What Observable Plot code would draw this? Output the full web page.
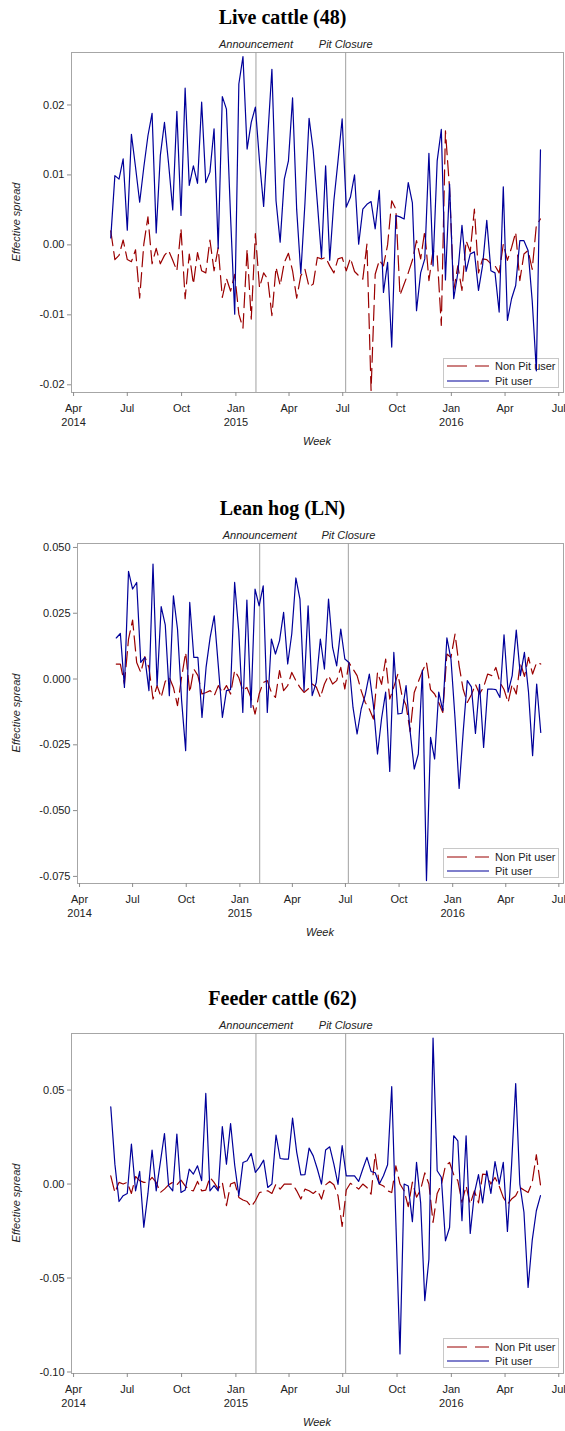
<!DOCTYPE html>
<html>
<head>
<meta charset="utf-8">
<script src="https://cdn.jsdelivr.net/npm/d3@7"></script>
<script src="https://cdn.jsdelivr.net/npm/@observablehq/plot@0.6"></script>
<style>
  body { margin: 0; background: #fff; }
  #root { position: relative; width: 565px; height: 1431px; overflow: hidden;
          font-family: "Liberation Sans", Arial, sans-serif; color: #222; }
  .title { position: absolute; left: 0; width: 565px; text-align: center; line-height: 1;
           font-family: "Liberation Serif", "Times New Roman", serif; font-weight: bold; font-size: 20px; color: #000; }
  .panel { position: absolute; left: 0; width: 565px; }
  .panel svg { position: absolute; left: 0; top: 0; z-index: 1; }
  .ylab, .xlab { position: absolute; font-style: italic; font-size: 11px; white-space: nowrap; line-height: 1; }
  .ylab { transform: translate(-50%, -50%) rotate(-90deg); }
  .xlab { transform: translate(-50%, -50%); }
  .legend { position: absolute; z-index: 0; border: 1px solid #c8c8c8; font-size: 11px; box-sizing: border-box; }
  .legend .row { position: absolute; left: 0; height: 14px; display: flex; align-items: center; }
  .legend svg { position: static; }
  .legend span { margin-left: 6px; white-space: nowrap; }
</style>
</head>
<body>
<div id="root"></div>
<script>
// Weekly effective spreads, first week 2014-06-03, 105 weeks.
const firstWeek = "2014-06-03";

// Live cattle (48)
const lcNon = [0.002,-0.0021,-0.0015,0.0007,-0.0021,-0.0024,-0.0007,-0.0076,0.0001,0.004,
  -0.0027,-0.0005,-0.0027,-0.0015,-0.0008,-0.0022,-0.0037,0.0023,-0.0077,-0.0013,
  -0.0056,-0.0011,-0.0037,-0.004,0.0007,-0.0037,-0.0004,-0.0075,-0.0048,-0.0066,
  -0.0042,-0.0099,-0.0119,-0.0006,-0.0106,0.0016,-0.0061,-0.004,-0.0049,-0.0101,
  -0.0032,-0.0058,-0.0025,-0.0012,-0.0037,-0.0076,-0.0044,-0.0035,-0.006,-0.0056,
  -0.0018,-0.002,-0.0018,-0.003,-0.004,-0.002,-0.0018,-0.0037,-0.0019,-0.0038,
  -0.0044,-0.0049,0.0001,-0.0208,-0.0042,-0.0022,-0.003,0.0,0.0063,0.0051,
  -0.0072,-0.0056,-0.004,-0.0022,0.0006,-0.002,0.002,-0.0051,-0.0008,-0.0015,
  -0.0115,0.0163,0.008,-0.0065,-0.003,-0.0065,0.0006,-0.001,0.0051,-0.004,
  -0.002,-0.0021,-0.0027,-0.003,-0.004,0.0001,-0.0022,-0.0004,0.0018,-0.0051,
  -0.0013,-0.0008,-0.0035,0.0028,0.0037];
const lcPit = [0.001,0.0099,0.0094,0.0123,0.0021,0.0158,0.0111,0.0061,0.0111,0.0156,
  0.0188,0.0017,0.0128,0.0175,0.0116,0.005,0.0191,0.0042,0.0224,0.0085,
  0.0113,0.0088,0.0204,0.0089,0.0104,0.0166,-0.0005,0.0212,0.0194,0.004,
  -0.0099,0.023,0.0269,0.0137,0.0175,0.0197,0.012,0.0055,0.0155,0.0251,
  0.0063,0.0004,0.0094,0.012,0.021,0.005,-0.0041,0.006,0.0181,0.0135,
  0.006,-0.0018,0.0113,-0.0022,0.0063,0.012,0.018,0.0054,0.0068,0.01,
  0.0001,0.0051,0.0058,0.0062,0.0023,0.0078,-0.0068,-0.0025,-0.0146,0.0042,
  0.004,0.0037,0.0089,0.006,-0.0094,-0.004,-0.002,0.0131,-0.003,0.012,
  0.0165,-0.005,0.0087,-0.0077,-0.004,0.0028,-0.0038,-0.0013,-0.001,-0.0065,
  -0.0029,0.0035,-0.0037,-0.004,-0.0096,0.0083,-0.0108,-0.0077,-0.0058,0.0006,
  0.0006,-0.0008,-0.008,-0.018,0.0136];

// Lean hog (LN)
const lhNon = [0.0057,0.0057,-0.0019,0.0152,0.0224,0.0063,0.0025,0.0085,0.0044,-0.0076,
  -0.0025,-0.007,-0.0009,0.0006,-0.0032,-0.0101,0.0006,0.0101,-0.0051,0.0038,
  0.0013,-0.0057,-0.0051,-0.0044,-0.0063,-0.0025,-0.0051,-0.0025,-0.0057,0.0032,
  0.0006,-0.0044,-0.0032,-0.007,-0.0133,-0.0057,-0.0013,-0.0006,-0.0051,-0.007,
  0.0032,-0.0044,-0.0025,0.0025,-0.0006,-0.0032,-0.0051,-0.0038,-0.0019,-0.003,
  -0.007,-0.0019,0.0013,-0.0019,-0.0006,0.0044,-0.0038,0.0063,0.0038,0.0013,
  -0.0044,-0.0089,-0.0114,-0.0152,0.0025,-0.002,0.0076,-0.0076,-0.003,0.0019,
  -0.0063,-0.01,-0.02,-0.0051,-0.001,0.003,0.0063,-0.004,-0.0057,-0.0089,
  -0.0127,0.0095,0.0082,0.0171,0.005,-0.004,-0.0089,-0.006,-0.002,-0.0057,
  -0.003,0.0019,0.0013,0.0044,-0.0013,-0.004,-0.0089,-0.002,-0.0057,0.0063,
  0.001,0.0082,0.0019,0.0063,0.0057];
const lhPit = [0.0156,0.0173,-0.0032,0.0409,0.0342,0.0367,0.0063,0.0082,-0.0044,0.0437,
  -0.0025,0.0275,0.0206,-0.0063,0.0316,0.019,-0.008,-0.0272,0.0291,0.0082,
  0.0082,-0.0146,0.0044,0.0158,0.024,0.005,-0.0146,-0.0044,-0.004,0.0367,
  0.0183,-0.0127,0.03,-0.0108,0.0342,0.0278,0.0354,-0.0127,0.0152,0.0095,
  0.0146,0.0253,0.0057,0.0172,0.0384,0.0304,-0.0044,0.0278,-0.0063,-0.0013,
  0.0152,0.0038,0.0304,0.012,0.005,0.019,0.0076,0.0063,-0.0108,-0.0209,
  -0.0114,-0.006,0.0019,-0.01,-0.0285,-0.015,-0.005,-0.0351,0.0101,-0.0133,
  -0.013,-0.0025,-0.02,-0.0342,-0.0285,0.0034,-0.0766,-0.0222,-0.0304,-0.005,
  -0.012,0.0156,0.0076,-0.015,-0.0416,-0.02,-0.0006,-0.003,-0.0207,-0.002,
  -0.026,-0.0038,-0.0038,-0.004,-0.007,0.0168,-0.005,0.0013,0.0186,0.0013,
  0.0101,-0.005,-0.0291,-0.0019,-0.0203];

// Feeder cattle (62)
const fcNon = [0.0044,-0.0045,0.0009,0.0,0.0009,-0.005,0.004,0.0018,0.0009,0.001,
  0.0035,0.0009,-0.0045,-0.0027,-0.0004,0.0009,-0.0004,0.0021,-0.001,-0.0032,
  -0.0036,0.0014,-0.0036,-0.0032,0.0035,0.0009,-0.0027,0.0009,-0.0115,0.0,
  0.0009,-0.0071,-0.0085,-0.0093,-0.0121,-0.0089,-0.0045,-0.004,-0.0036,-0.005,
  0.0,-0.0027,0.0,0.0,0.0,-0.0036,-0.008,-0.0027,-0.0036,-0.005,
  -0.0032,-0.008,-0.0004,0.0014,-0.0004,-0.0062,-0.0225,-0.0032,0.0004,-0.001,
  -0.0027,0.0,-0.0018,-0.0054,0.016,0.0,-0.001,-0.0036,-0.0045,0.0097,
  0.0,-0.0036,-0.012,0.001,-0.007,-0.003,0.006,0.0,-0.0204,-0.005,
  -0.0004,0.0097,0.0115,0.005,0.0018,-0.0098,-0.001,-0.0107,-0.0036,-0.01,
  0.0053,0.005,0.0,0.0035,-0.001,-0.0071,-0.0107,-0.008,-0.0062,-0.0018,
  -0.0032,-0.0045,0.0009,0.0156,-0.0004];
const fcPit = [0.0411,0.0106,-0.0093,-0.0062,-0.005,0.0213,-0.0036,0.0067,-0.023,-0.005,
  0.0181,-0.0036,0.0115,0.0269,-0.0009,-0.0036,0.0266,-0.0045,-0.0032,0.008,
  0.0053,0.0097,0.0018,0.0482,-0.0036,-0.0009,-0.0036,0.0306,0.0106,0.0322,
  0.01,-0.0062,0.0115,0.0124,0.0163,0.0062,0.009,0.0127,-0.0018,0.0,
  0.0261,0.0136,0.0133,0.0133,0.0351,0.017,0.0049,0.005,0.0191,0.015,
  0.008,0.0,0.0181,0.0198,0.0106,-0.0002,0.0204,0.0044,0.0044,0.0044,
  0.0014,0.008,0.0142,0.0067,0.006,0.0,0.0044,0.0103,0.0518,-0.02,
  -0.0904,0.0,-0.001,-0.02,0.0115,-0.01,-0.062,-0.04,0.0777,0.0071,
  0.0036,-0.0302,-0.0231,0.0257,0.023,-0.0195,0.0257,-0.0263,-0.005,0.005,
  -0.01,0.007,-0.005,0.012,0.0,0.0115,-0.0252,0.01,0.0535,0.0,
  -0.015,-0.055,-0.03,-0.0142,-0.0062];

// Event markers
const eventDates = ["2015-02-04", "2015-07-06"];
const eventLabels = ["Announcement", "Pit Closure"];

// Axis ticks
const xTickDates = ["2014-04-01","2014-07-01","2014-10-01","2015-01-01","2015-04-01",
                    "2015-07-01","2015-10-01","2016-01-01","2016-04-01","2016-07-01"];
const xTickLabels = ["Apr\n2014","Jul","Oct","Jan\n2015","Apr","Jul","Oct","Jan\n2016","Apr","Jul"];

const titles = ["Live cattle (48)", "Lean hog (LN)", "Feeder cattle (62)"];
const yTicks = [
  [-0.02, -0.01, 0, 0.01, 0.02],
  [-0.075, -0.05, -0.025, 0, 0.025, 0.05],
  [-0.1, -0.05, 0, 0.05]
];
const yDigits = [2, 3, 2];
const yDomains = [[-0.0211, 0.0275], [-0.0777, 0.0515], [-0.1008, 0.0801]];
const seriesNames = ["Non Pit user", "Pit user"];
const seriesData = [[lcNon, lcPit], [lhNon, lhPit], [fcNon, fcPit]];

// Styling
const RED = "#9a0000", BLUE = "#00009a", DASH = "15,6";
const AXIS_GRAY = "#8c8c8c", FRAME_GRAY = "#a6a6a6", EVENT_GRAY = "#a0a0a0";
const frameTops = [52, 542.7, 1032.7];
const marginLefts = [71, 77, 71];
const MT = 22, FH = 340, MB = 60, MR = 2;

const xDomain = [new Date("2014-03-28T12:00Z"), new Date("2016-07-09T00:00Z")];
const start = new Date(firstWeek + "T00:00Z");
const tickDates = xTickDates.map(s => new Date(s + "T00:00Z"));
const tickLabelByTime = new Map(tickDates.map((d, i) => [d.getTime(), xTickLabels[i]]));
const events = eventDates.map((s, i) => ({date: new Date(s + "T00:00Z"), label: eventLabels[i]}));

const root = document.getElementById("root");

titles.forEach((title, p) => {
  const [non, pit] = seriesData[p];
  const rowsNon = non.map((v, i) => ({date: d3.utcDay.offset(start, 7 * i), v}));
  const rowsPit = pit.map((v, i) => ({date: d3.utcDay.offset(start, 7 * i), v}));
  const top = frameTops[p] - MT;
  const ml = marginLefts[p];

  const t = document.createElement("div");
  t.className = "title";
  t.style.top = (frameTops[p] - 45) + "px";
  t.textContent = title;
  root.appendChild(t);

  const panel = document.createElement("div");
  panel.className = "panel";
  panel.style.top = top + "px";
  panel.style.height = (MT + FH + MB) + "px";

  const chart = Plot.plot({
    width: 565,
    height: MT + FH + MB,
    marginTop: MT, marginBottom: MB, marginLeft: ml, marginRight: MR,
    style: {background: "transparent", fontFamily: "'Liberation Sans', Arial, sans-serif", fontSize: "11px", color: "#222", overflow: "visible"},
    x: {type: "utc", domain: xDomain},
    y: {domain: yDomains[p]},
    marks: [
      Plot.frame({stroke: FRAME_GRAY}),
      Plot.ruleX(events, {x: "date", stroke: EVENT_GRAY, strokeWidth: 1}),
      Plot.text(events, {x: "date", text: "label", frameAnchor: "top", lineAnchor: "middle", dy: -8.5,
                         fontStyle: "italic", fontSize: 11, fill: "#222"}),
      Plot.line(rowsNon, {x: "date", y: "v", stroke: RED, strokeWidth: 1.2, strokeDasharray: DASH}),
      Plot.line(rowsPit, {x: "date", y: "v", stroke: BLUE, strokeWidth: 1.2}),
      Plot.axisX({ticks: tickDates, tickFormat: d => tickLabelByTime.get(d.getTime()),
                  tickSize: 4, tickPadding: 6, stroke: AXIS_GRAY, fill: "#222",
                  lineHeight: 1.25, label: null}),
      Plot.axisY({ticks: yTicks[p], tickFormat: d => d.toFixed(yDigits[p]),
                  tickSize: 4, tickPadding: 3, stroke: AXIS_GRAY, fill: "#222", label: null})
    ]
  });
  panel.appendChild(chart);

  // legend (sits under the plotted lines)
  const lg = document.createElement("div");
  lg.className = "legend";
  lg.style.left = "443px";
  lg.style.top = (MT + FH - 34.5) + "px";
  lg.style.width = "116px";
  lg.style.height = "30px";
  [[RED, DASH], [BLUE, null]].forEach(([c, dash], k) => {
    const row = document.createElement("div");
    row.className = "row";
    row.style.top = (k === 0 ? 0.5 : 15) + "px";
    row.style.left = "3px";
    row.innerHTML = `<svg width="42" height="6"><line x1="0" y1="3" x2="42" y2="3" stroke="${c}" stroke-width="1.2" ${dash ? `stroke-dasharray="20,8"` : ""}/></svg><span>${seriesNames[k]}</span>`;
    lg.appendChild(row);
  });
  panel.appendChild(lg);

  const yl = document.createElement("div");
  yl.className = "ylab";
  yl.style.left = "16px";
  yl.style.top = (MT + FH / 2) + "px";
  yl.textContent = "Effective spread";
  panel.appendChild(yl);

  const xl = document.createElement("div");
  xl.className = "xlab";
  xl.style.left = (ml + (565 - MR - ml) / 2) + "px";
  xl.style.top = (MT + FH + 49) + "px";
  xl.textContent = "Week";
  panel.appendChild(xl);

  root.appendChild(panel);
});
</script>
</body>
</html>
